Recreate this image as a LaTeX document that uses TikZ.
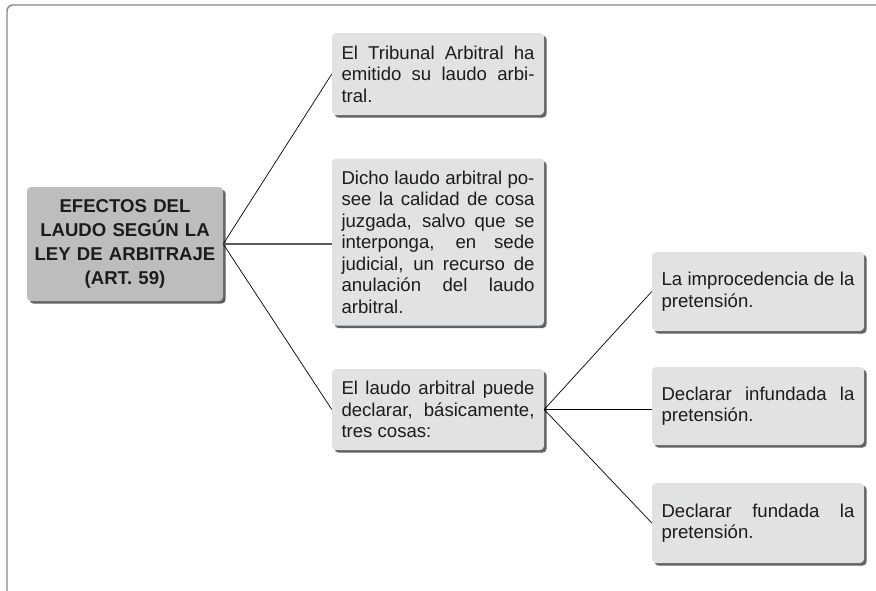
\documentclass[tikz,border=0pt]{standalone}
\usepackage{fontspec}
\setmainfont{Liberation Sans}
\usetikzlibrary{shadows}
\definecolor{boxgray}{HTML}{E1E2E3}
\definecolor{maingray}{HTML}{BCBDBF}
\definecolor{shadegray}{HTML}{626364}
\definecolor{framegray}{HTML}{858585}
\definecolor{inkgray}{HTML}{1E1B1C}
\tolerance=10000
\hbadness=10000
\begin{document}
\begin{tikzpicture}[x=1pt,y=-1pt,
    card/.style={rounded corners=4pt,fill=boxgray,text=inkgray,
      drop shadow={shadow xshift=2.6pt,shadow yshift=-2.6pt,fill=shadegray,opacity=1},
      text width=193pt,inner xsep=9.5pt,inner ysep=4pt,align=justify,
      font=\fontsize{18.6}{21.5}\selectfont},
    headcard/.style={card,fill=maingray,text width=190pt,inner xsep=3pt,align=center,
      font=\fontsize{18.6}{24}\selectfont\bfseries},
    link/.style={black,line width=0.7pt},
    trunk/.style={black!65,line width=1.1pt}]
    \useasboundingbox (0,0) rectangle (876,590);
    \draw[framegray,line width=1.4pt,rounded corners=6pt] (7,592) -- (7,5) -- (878,5);
    \node[headcard,minimum height=114pt] (efectos) at (125,244)
      {EFECTOS DEL\\LAUDO SEGÚN LA\\\mbox{LEY DE ARBITRAJE}\\(ART. 59)};
    \node[card,minimum height=82pt] (tribunal) at (438,74)
      {El Tribunal Arbitral ha\linebreak emitido su laudo arbi-\linebreak tral.};
    \node[card,minimum height=167pt] (cosa) at (438,242)
      {Dicho laudo arbitral po-\linebreak see la calidad de cosa\linebreak juzgada, salvo que se\linebreak
       interponga, en sede\linebreak judicial, un recurso de\linebreak anulación del laudo\linebreak arbitral.};
    \node[card,minimum height=81pt] (declarar) at (438,409.5)
      {El laudo arbitral puede\linebreak declarar, básicamente,\linebreak tres cosas:};
    \node[card,minimum height=79pt] (improc) at (758,291.5)
      {La improcedencia de la\linebreak pretensión.};
    \node[card,minimum height=78pt] (infund) at (758,406)
      {Declarar infundada la\linebreak pretensión.};
    \node[card,minimum height=80pt] (fund) at (758,523)
      {Declarar fundada la\linebreak pretensión.};
    \draw[link] (efectos.east) -- (tribunal.west);
    \draw[trunk] (efectos.east) -- (efectos.east -| cosa.west);
    \draw[link] (efectos.east) -- (declarar.west);
    \draw[link] (declarar.east) -- (improc.west);
    \draw[link] (declarar.east) -- (declarar.east -| infund.west);
    \draw[link] (declarar.east) -- (fund.west);
  \end{tikzpicture}
\end{document}
